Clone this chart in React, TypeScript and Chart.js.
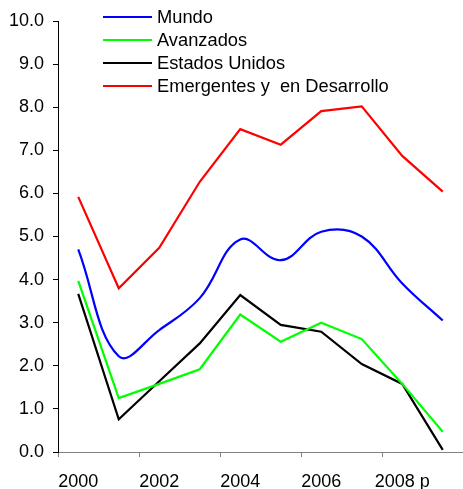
import React, { useEffect, useRef } from 'react';
import { Chart, registerables } from 'chart.js';

Chart.register(...registerables);

const years = ['2000', '2001', '2002', '2003', '2004', '2005', '2006', '2007', '2008 p', '2009'];
const mundo = [4.7, 2.22, 2.83, 3.57, 4.93, 4.45, 5.11, 5.0, 3.91, 3.05];
const avanzados = [3.97, 1.25, 1.58, 1.92, 3.19, 2.56, 3.0, 2.62, 1.58, 0.47];
const estadosUnidos = [3.67, 0.76, 1.64, 2.52, 3.64, 2.95, 2.79, 2.04, 1.58, 0.05];
const emergentes = [5.92, 3.8, 4.74, 6.27, 7.49, 7.13, 7.91, 8.02, 6.87, 6.04];

const FONT = '"Liberation Sans", Arial, Helvetica, sans-serif';
const TICK_SIZE = 18;
const LEGEND_SIZE = 18.3;

const legendPlugin = {
  id: 'insideLegend',
  afterDraw(chart: any) {
    const ctx = chart.ctx;
    ctx.save();
    chart.data.datasets.forEach((ds: any, i: number) => {
      const y = 17 + i * 23;
      ctx.strokeStyle = ds.borderColor;
      ctx.lineWidth = 2;
      ctx.beginPath();
      ctx.moveTo(103, y);
      ctx.lineTo(152, y);
      ctx.stroke();
      ctx.fillStyle = '#000';
      ctx.font = `${LEGEND_SIZE}px ${FONT}`;
      ctx.textBaseline = 'middle';
      ctx.textAlign = 'left';
      ctx.fillText(ds.label, 157, y + 1);
    });
    ctx.restore();
  },
};

export default function App() {
  const ref = useRef<HTMLCanvasElement | null>(null);

  useEffect(() => {
    document.body.style.margin = '0';
    const canvas = ref.current;
    if (!canvas) return;
    const chart = new Chart(canvas, {
      type: 'line',
      data: {
        labels: years,
        datasets: [
          { label: 'Mundo', data: mundo, borderColor: '#0000ff', backgroundColor: '#0000ff', borderWidth: 2.2, pointRadius: 0, tension: 0.4, fill: false },
          { label: 'Avanzados', data: avanzados, borderColor: '#00ff00', backgroundColor: '#00ff00', borderWidth: 2.2, pointRadius: 0, tension: 0, fill: false },
          { label: 'Estados Unidos', data: estadosUnidos, borderColor: '#000000', backgroundColor: '#000000', borderWidth: 2.2, pointRadius: 0, tension: 0, fill: false },
          { label: 'Emergentes y  en Desarrollo', data: emergentes, borderColor: '#ff0000', backgroundColor: '#ff0000', borderWidth: 2.2, pointRadius: 0, tension: 0, fill: false },
        ],
      },
      options: {
        responsive: false,
        animation: false,
        layout: { padding: { top: 21, right: 0, left: 0, bottom: 0 } },
        plugins: { legend: { display: false }, tooltip: { enabled: false } },
        scales: {
          x: {
            type: 'category',
            offset: true,
            border: { color: '#808080', width: 1 },
            grid: {
              offset: true,
              drawOnChartArea: false,
              color: (c: any) => (c.index % 2 === 0 ? '#808080' : 'rgba(0,0,0,0)'),
              tickLength: 5,
            },
            ticks: {
              autoSkip: false,
              maxRotation: 0,
              padding: 14,
              color: '#000',
              font: { family: FONT, size: TICK_SIZE },
              callback: (_v: any, i: number) => (i % 2 === 0 ? years[i] : ''),
            },
            afterFit: (s: any) => { s.height = 37; },
          },
          y: {
            min: 0,
            max: 10,
            border: { color: '#000', width: 1 },
            grid: { drawOnChartArea: false, color: '#000', tickLength: 5 },
            ticks: {
              stepSize: 1,
              padding: 9,
              color: '#000',
              font: { family: FONT, size: TICK_SIZE },
              callback: (v: any) => Number(v).toFixed(1),
            },
            afterFit: (s: any) => { s.width = 58; },
          },
        },
      },
      plugins: [legendPlugin],
    });
    return () => chart.destroy();
  }, []);

  return (
    <div style={{ width: 463, height: 489 }}>
      <canvas ref={ref} width={463} height={489} style={{ display: 'block' }} />
    </div>
  );
}
